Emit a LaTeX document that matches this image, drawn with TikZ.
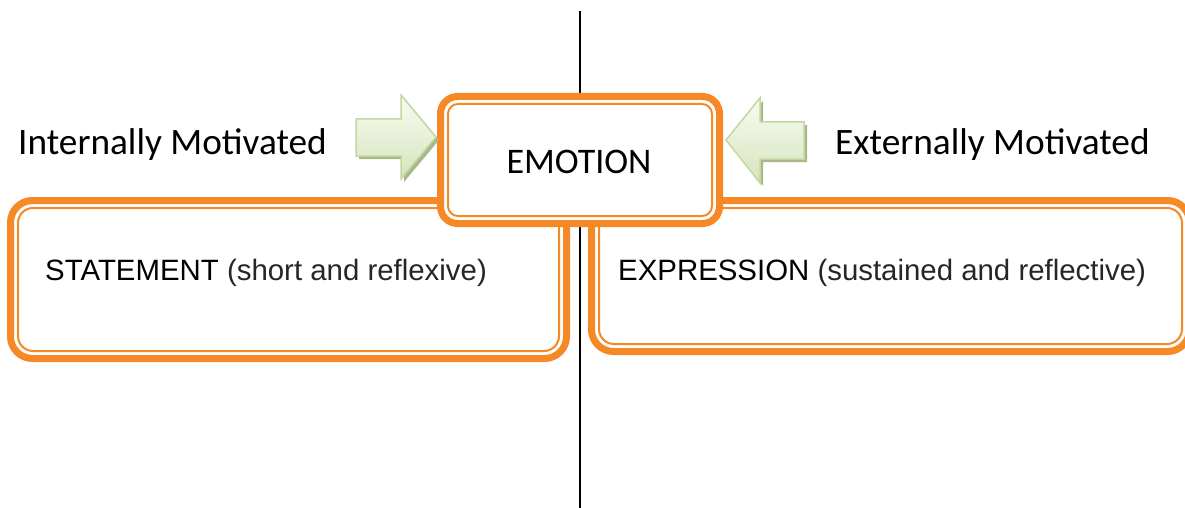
\documentclass[tikz,border=0pt]{standalone}
\usepackage{fontspec}
\setmainfont{Liberation Sans}
\newfontfamily\calibrifont{Carlito}
\begin{document}
\definecolor{frameorange}{RGB}{246,136,38}
\definecolor{arrowline}{RGB}{196,215,158}
\definecolor{arrowtop}{RGB}{248,251,243}
\definecolor{arrowbottom}{RGB}{214,228,188}
\definecolor{arrowshadow}{RGB}{168,184,138}
\tikzset{
  thickframe/.style={draw=frameorange, line width=7pt, fill=white, rectangle,
    rounded corners=#1, inner sep=0pt, outer sep=0pt},
  thinframe/.style={draw=frameorange, line width=2pt, rounded corners=#1},
  headtext/.style={font=\calibrifont\fontsize{37.3}{41}\selectfont, inner sep=0pt, anchor=base west},
  boxtext/.style={font=\fontsize{29.4}{33}\selectfont, inner sep=0pt, anchor=base west},
  arrowbody/.style={draw=arrowline, line width=1.5pt, line join=miter,
    top color=arrowtop, bottom color=arrowbottom},
  arrowshade/.style={fill=arrowshadow, draw=none},
}
\begin{tikzpicture}[x=1pt, y=-1pt]
  \useasboundingbox (0,0) rectangle (1185,508);
  \clip (0,0) rectangle (1185,508);

  % dividing axis
  \coordinate (axtop) at (579.5,11);
  \coordinate (axbot) at (579.5,508);
  \draw[line width=2pt, black] (axtop) -- (axbot);

  % lower frames
  \node[thickframe=22pt, minimum width=556pt, minimum height=158pt] (stmtbox) at (288.5,279.5) {};
  \draw[thinframe=15pt] ([xshift=7.5pt,yshift=-7.5pt]stmtbox.north west) rectangle ([xshift=-7.5pt,yshift=7.5pt]stmtbox.south east);
  \node[thickframe=22pt, minimum width=598pt, minimum height=151pt] (exprbox) at (890.5,276) {};
  \draw[thinframe=15pt] ([xshift=7.5pt,yshift=-7.5pt]exprbox.north west) rectangle ([xshift=-7.5pt,yshift=7.5pt]exprbox.south east);

  % central frame
  \node[thickframe=17pt, minimum width=279pt, minimum height=127pt] (emobox) at (580,160) {};
  \draw[thinframe=10pt] ([xshift=7.5pt,yshift=-7.5pt]emobox.north west) rectangle ([xshift=-7.5pt,yshift=7.5pt]emobox.south east);

  % texts
  \node[headtext, font=\calibrifont\fontsize{36}{40}\selectfont, anchor=base] (emotion) at (579,173) {EMOTION};
  \node[headtext] (intmot) at (18,154) {Internally Motivated};
  \node[headtext] (extmot) at (835,154) {Externally Motivated};
  \node[boxtext] (stmt) at (45,280) {STATEMENT {\color{black!85}(short and reflexive)}};
  \node[boxtext] (expr) at (618,280) {EXPRESSION {\color{black!85}(sustained and reflective)}};

  % block arrow pointing right
  \fill[arrowshade] (359,122) -- (404,122) -- (404,98) -- (439,140) -- (404,182) -- (404,159) -- (359,159) -- cycle;
  \path[arrowbody] (356,119) -- (401,119) -- (401,95) -- (436,137) -- (401,179) -- (401,156) -- (356,156) -- cycle;

  % block arrow pointing left
  \fill[arrowshade] (807,125) -- (763,125) -- (763,101) -- (729,143) -- (763,186) -- (763,162) -- (807,162) -- cycle;
  \path[arrowbody] (804,122) -- (760,122) -- (760,98) -- (726,140) -- (760,183) -- (760,159) -- (804,159) -- cycle;
\end{tikzpicture}
\end{document}
